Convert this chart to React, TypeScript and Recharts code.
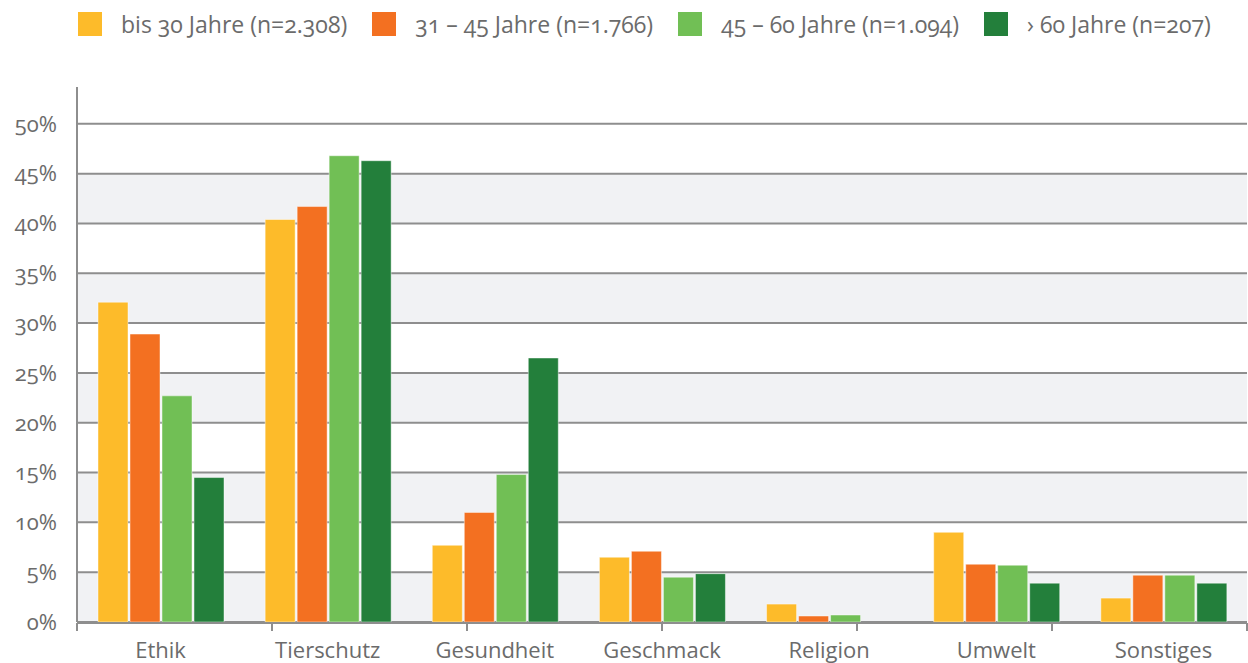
import React from 'react';
import { BarChart, Bar, XAxis, YAxis, CartesianGrid, Legend } from 'recharts';

const categories = ['Ethik', 'Tierschutz', 'Gesundheit', 'Geschmack', 'Religion', 'Umwelt', 'Sonstiges'];
const bis30 = [32.1, 40.4, 7.7, 6.5, 1.8, 9.0, 2.4];
const age31to45 = [28.9, 41.7, 11.0, 7.1, 0.6, 5.8, 4.7];
const age45to60 = [22.7, 46.8, 14.8, 4.5, 0.7, 5.7, 4.7];
const over60 = [14.5, 46.3, 26.5, 4.85, 0, 3.9, 3.9];

const seriesKeys = ['bis30', 'age31to45', 'age45to60', 'over60'];
const seriesNames = [
  'bis 30 Jahre (n=2.308)',
  '31 – 45 Jahre (n=1.766)',
  '45 – 60 Jahre (n=1.094)',
  '› 60 Jahre (n=207)',
];
const seriesColors = ['#FDBB2A', '#F37021', '#71BF55', '#237F3B'];

const yTicks = [0, 5, 10, 15, 20, 25, 30, 35, 40, 45, 50];
const boundaryTicks = [0, 1, 2, 3, 4, 5, 6, 7];

const data = categories.map((name, i) => ({
  name,
  bis30: bis30[i],
  age31to45: age31to45[i],
  age45to60: age45to60[i],
  over60: over60[i],
}));

const GRID = '#8e8e8e';
const TEXT = '#6b6b6b';
const BAND = '#f1f2f4';
const FONT = '"Open Sans", "Noto Sans", sans-serif';

const stripeFills = ['#ffffff', '#ffffff', BAND, '#ffffff', BAND, '#ffffff', BAND, '#ffffff', BAND, '#ffffff', BAND];

const LegendContent = () => (
  <div style={{ display: 'flex', alignItems: 'center', paddingLeft: 78, paddingTop: 12, height: 24 }}>
    {seriesNames.map((n, i) => (
      <div key={n} style={{ display: 'flex', alignItems: 'center', marginRight: 25 }}>
        <div style={{ width: 24, height: 24, background: seriesColors[i], marginRight: 19 }} />
        <span
          style={{
            fontSize: 23,
            color: TEXT,
            fontFamily: FONT,
            lineHeight: '24px',
            fontVariantNumeric: 'oldstyle-nums',
            whiteSpace: 'nowrap',
          }}
        >
          {n}
        </span>
      </div>
    ))}
  </div>
);

const EmptyTick = () => <g />;

export default function App() {
  return (
    <div style={{ position: 'absolute', left: 0, top: 0, fontFamily: FONT, fontVariantNumeric: 'oldstyle-nums' }}>
      <BarChart
        width={1248}
        height={663}
        data={data}
        margin={{ top: 39, right: 1, bottom: 39, left: 0 }}
        barSize={30}
        barGap={2}
      >
        <Legend
          verticalAlign="top"
          content={<LegendContent />}
          wrapperStyle={{ top: 0, left: 0, width: 1248, height: 48 }}
        />
        <CartesianGrid
          vertical={false}
          syncWithTicks
          stroke={GRID}
          strokeWidth={2}
          horizontalFill={stripeFills}
          fillOpacity={1}
        />
        <XAxis
          xAxisId="marks"
          type="number"
          domain={[0, 7]}
          ticks={boundaryTicks}
          interval={0}
          tick={EmptyTick}
          tickSize={8}
          height={1}
          axisLine={{ stroke: GRID, strokeWidth: 2 }}
          tickLine={{ stroke: GRID, strokeWidth: 2 }}
        />
        <XAxis
          dataKey="name"
          height={1}
          axisLine={false}
          tickLine={false}
          tickSize={8}
          tickMargin={12}
          interval={0}
          tick={{ fill: TEXT, fontSize: 22, fontFamily: FONT }}
        />
        <YAxis
          width={77}
          domain={[0, 53.7]}
          ticks={yTicks}
          interval={0}
          tickFormatter={(v: number) => `${v}%`}
          axisLine={{ stroke: GRID, strokeWidth: 2 }}
          tickLine={false}
          tickSize={0}
          tickMargin={20}
          tick={{ fill: TEXT, fontSize: 22, fontFamily: FONT }}
        />
        {seriesKeys.map((k, i) => (
          <Bar
            key={k}
            dataKey={k}
            name={seriesNames[i]}
            fill={seriesColors[i]}
            stroke="rgba(255,255,255,0.45)"
            strokeWidth={1}
            isAnimationActive={false}
          />
        ))}
      </BarChart>
    </div>
  );
}
